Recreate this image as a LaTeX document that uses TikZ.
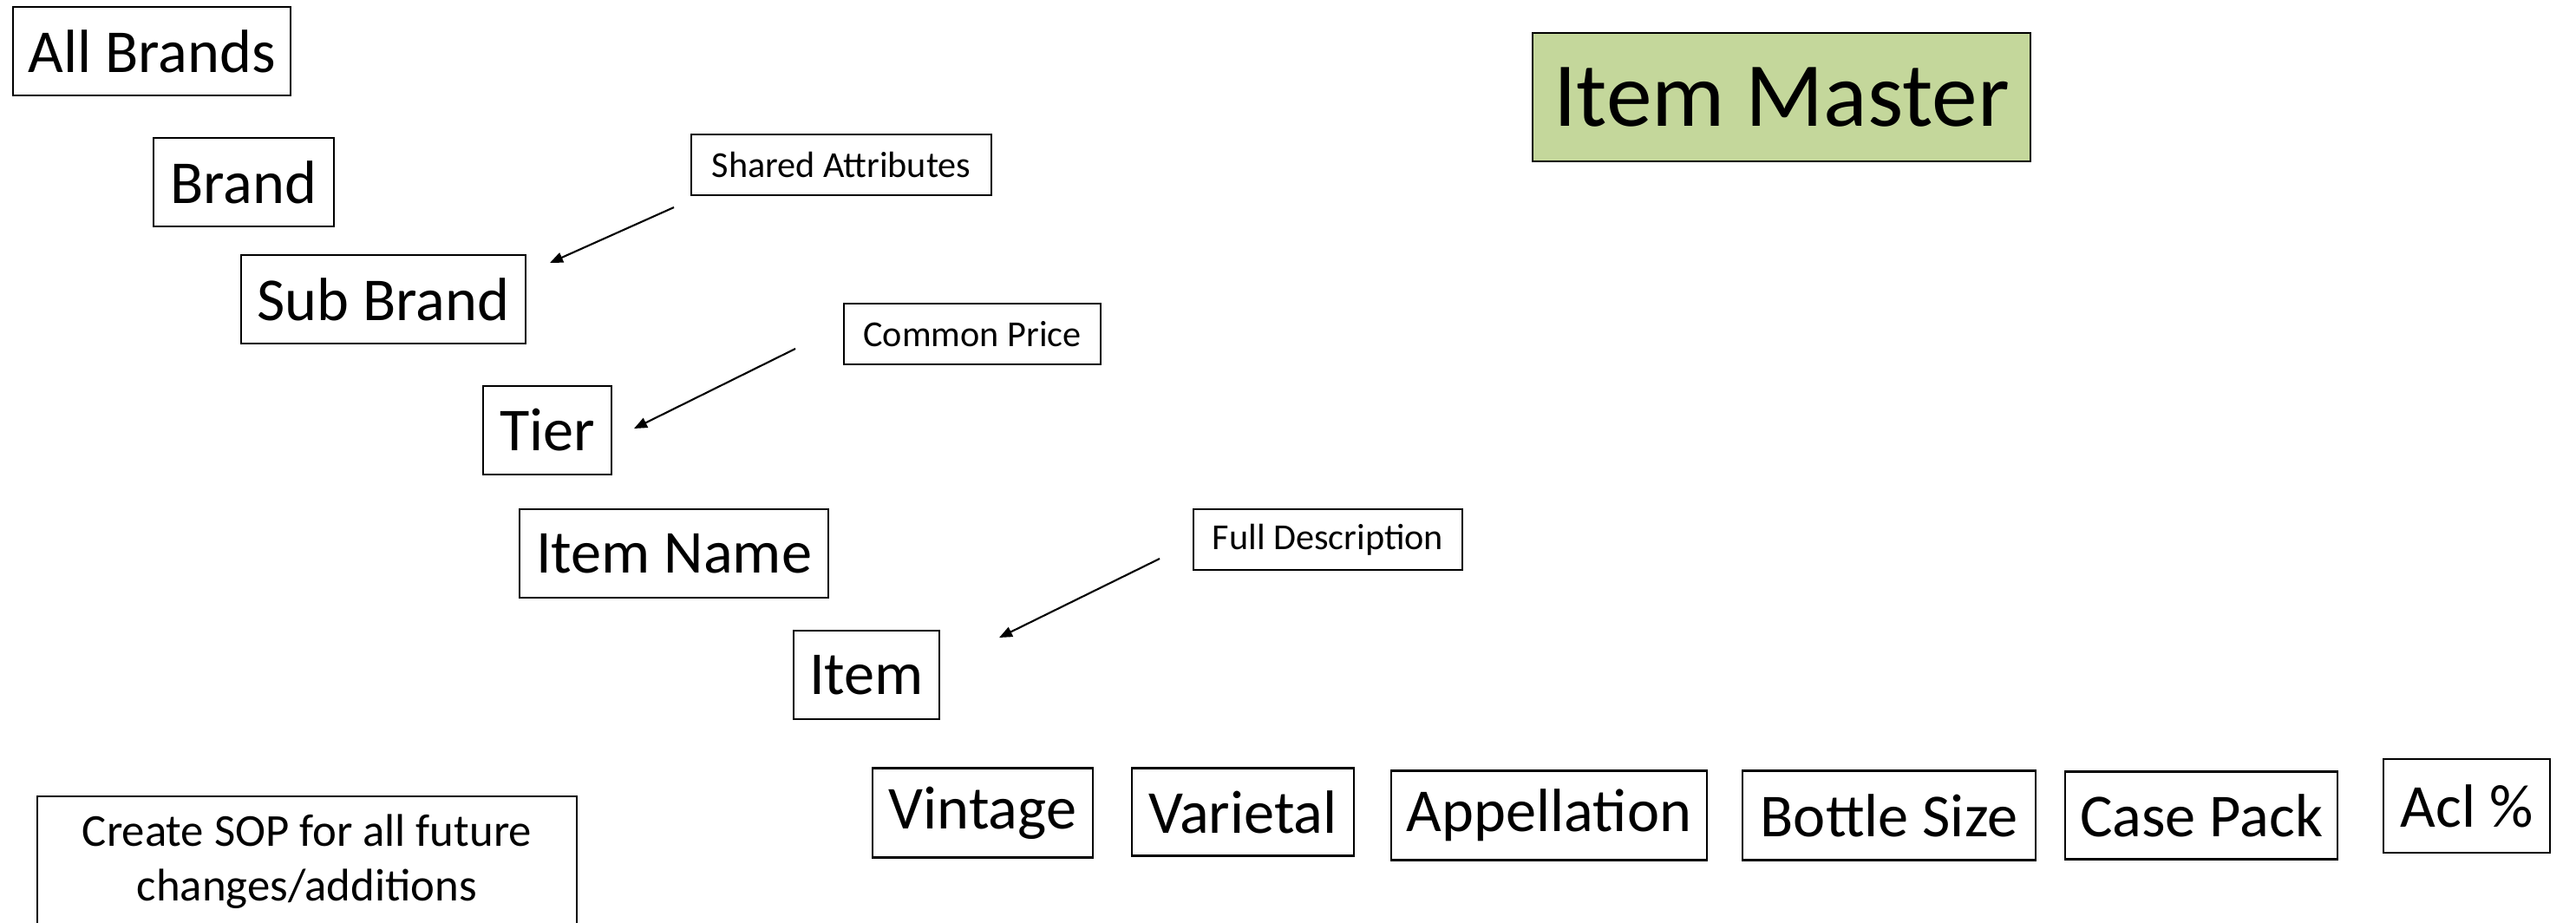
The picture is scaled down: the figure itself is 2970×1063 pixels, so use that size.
\documentclass[tikz,border=0pt]{standalone}
\usepackage{fontspec}
\setmainfont{Carlito}
\usetikzlibrary{arrows.meta}
\definecolor{masterfill}{RGB}{196,215,155}

\begin{document}
\begin{tikzpicture}[x=0.01cm, y=-0.01cm,
	every node/.style={font=\fontsize{20}{24}\selectfont},
	box/.style={draw, line width=0.6pt, inner sep=0pt, minimum height=1.02cm},
	note/.style={draw, line width=0.6pt, inner sep=0pt, minimum height=0.70cm, font=\fontsize{12}{14}\selectfont},
	pointer/.style={line width=0.6pt, -{Triangle[length=0.15cm, width=0.12cm]}}]
	\useasboundingbox (0,0) rectangle (2970,1063);
	% hierarchy
	\node[box, minimum width=3.20cm] (allbrands) at (175,59) {All Brands};
	\node[box, minimum width=2.07cm] (brand) at (281,210) {Brand};
	\node[box, minimum width=3.28cm] (subbrand) at (442,345) {Sub Brand};
	\node[box, minimum width=1.48cm] (tier) at (631,496) {Tier};
	\node[box, minimum width=3.55cm] (itemname) at (777,638) {Item Name};
	\node[box, minimum width=1.68cm] (item) at (999,778) {Item};
	% attribute notes
	\node[note, minimum width=3.45cm] (shared) at (970,190) {Shared Attributes};
	\node[note, minimum width=2.95cm] (price) at (1121,385) {Common Price};
	\node[note, minimum width=3.09cm] (fulldesc) at (1531,622) {Full Description};
	\coordinate (shared-from) at (777,239);
	\coordinate (shared-to) at (634,303);
	\coordinate (price-from) at (917,402);
	\coordinate (price-to) at (731,494);
	\coordinate (fulldesc-from) at (1337,644);
	\coordinate (fulldesc-to) at (1152,735);
	\draw[pointer] (shared-from) -- (shared-to);
	\draw[pointer] (price-from) -- (price-to);
	\draw[pointer] (fulldesc-from) -- (fulldesc-to);
	% title
	\node[box, fill=masterfill, minimum width=5.74cm, minimum height=1.48cm, font=\fontsize{30}{36}\selectfont] (master) at (2054,112) {Item Master};
	% item attributes
	\node[box, minimum width=2.54cm, minimum height=1.03cm] (vintage) at (1133,937) {Vintage};
	\node[box, minimum width=2.56cm, minimum height=1.01cm] (varietal) at (1433,936) {Varietal};
	\node[box, minimum width=3.64cm, minimum height=1.03cm] (appellation) at (1786,940) {Appellation};
	\node[box, minimum width=3.37cm, minimum height=1.03cm] (bottle) at (2178,940) {Bottle Size};
	\node[box, minimum width=3.14cm, minimum height=1.01cm] (casepack) at (2538,940) {Case Pack};
	\node[box, minimum width=1.92cm, minimum height=1.08cm] (acl) at (2844,929) {Acl \%};
	% reminder
	\node[box, minimum width=6.21cm, minimum height=1.50cm, align=center, font=\fontsize{15}{18}\selectfont] (sop) at (354,993) {Create SOP for all future\\changes/additions};
\end{tikzpicture}
\end{document}
